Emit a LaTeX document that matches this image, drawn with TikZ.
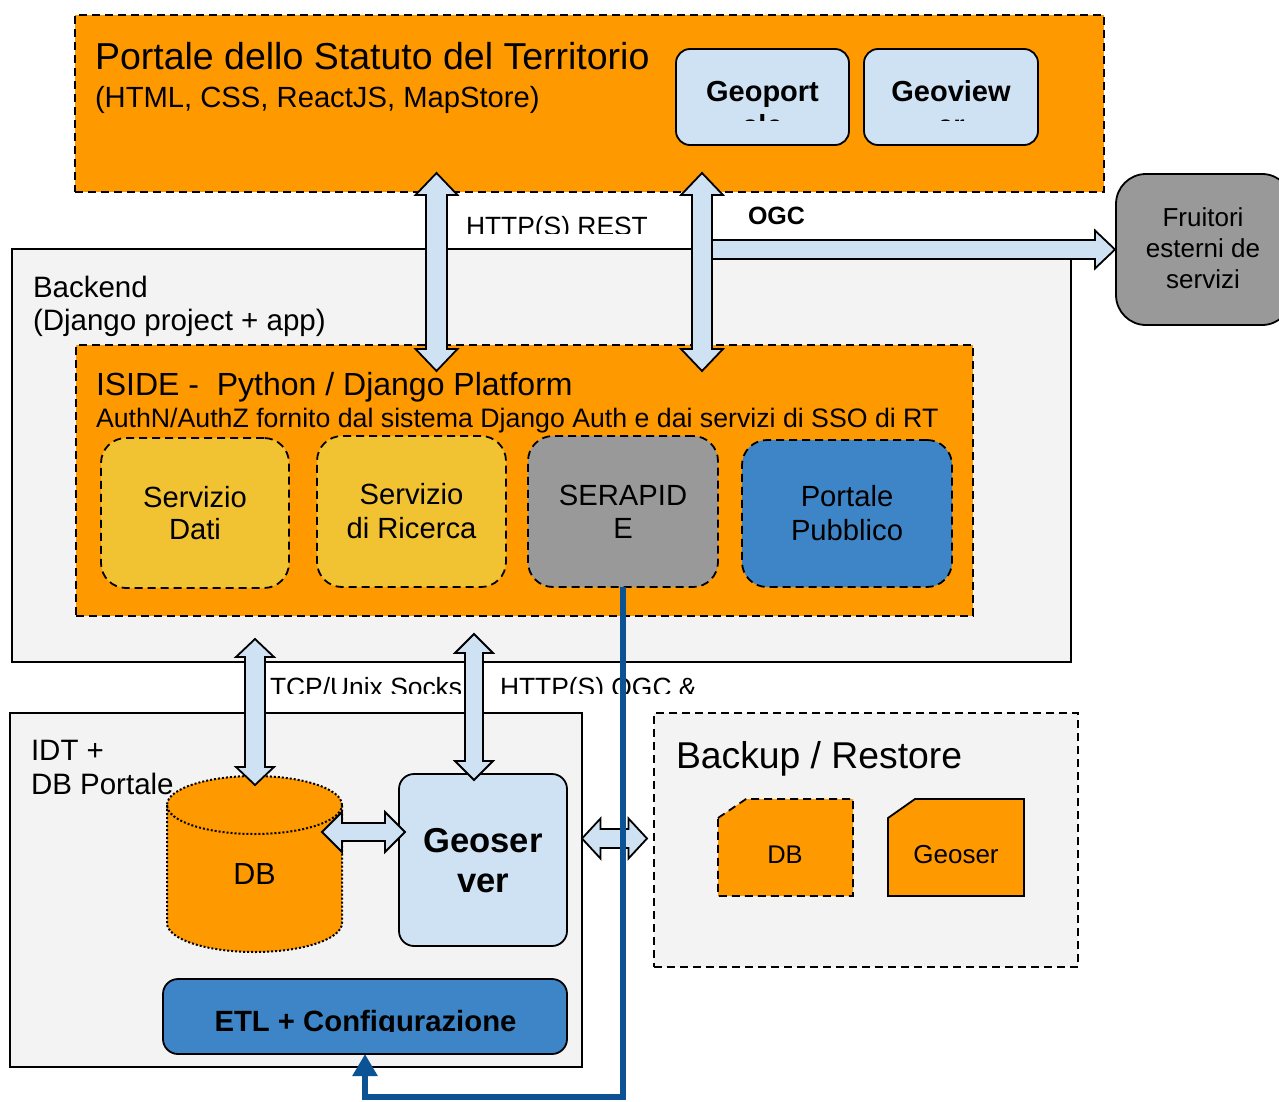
\documentclass[tikz,border=0pt]{standalone}
\usepackage{fontspec}
\setmainfont{Liberation Sans}
\usetikzlibrary{arrows.meta}
\definecolor{orng}{HTML}{FF9900}
\definecolor{lblue}{HTML}{CFE2F3}
\definecolor{bgray}{HTML}{F3F3F3}
\definecolor{mgray}{HTML}{999999}
\definecolor{mblue}{HTML}{3D85C6}
\definecolor{yel}{HTML}{F1C232}
\definecolor{dblue}{HTML}{0B5394}
\newcommand\fsz[1]{\fontsize{#1pt}{#1pt}\selectfont}
% vertical double block arrow: cx, top, bottom, shaft half, head half, head length
\newcommand\mkVarrow[6]{%
  \draw[blockarrow] (#1,#2) -- ({#1+#5},{#2+#6}) -- ({#1+#4},{#2+#6}) -- ({#1+#4},{#3-#6}) -- ({#1+#5},{#3-#6}) -- (#1,#3) -- ({#1-#5},{#3-#6}) -- ({#1-#4},{#3-#6}) -- ({#1-#4},{#2+#6}) -- ({#1-#5},{#2+#6}) -- cycle;}
% horizontal double block arrow: left, right, cy, shaft half, head half, head length
\newcommand\mkHarrow[6]{%
  \draw[blockarrow] (#1,#3) -- ({#1+#6},{#3-#5}) -- ({#1+#6},{#3-#4}) -- ({#2-#6},{#3-#4}) -- ({#2-#6},{#3-#5}) -- (#2,#3) -- ({#2-#6},{#3+#5}) -- ({#2-#6},{#3+#4}) -- ({#1+#6},{#3+#4}) -- ({#1+#6},{#3+#5}) -- cycle;}
% single right block arrow
\newcommand\mkRarrow[6]{%
  \draw[blockarrow] (#1,{#3-#4}) -- ({#2-#6},{#3-#4}) -- ({#2-#6},{#3-#5}) -- (#2,#3) -- ({#2-#6},{#3+#5}) -- ({#2-#6},{#3+#4}) -- (#1,{#3+#4}) -- cycle;}
\begin{document}
\begin{tikzpicture}[x=1pt,y=-1pt,
  rbox/.style={draw=black, line width=1.5pt, inner sep=0pt, outer sep=0pt, anchor=north west},
  dsh/.style={dash pattern=on 8pt off 5pt, line width=1.8pt},
  lbl/.style={inner sep=0pt, outer sep=0pt, anchor=base},
  lblw/.style={inner sep=0pt, outer sep=0pt, anchor=base west},
  blockarrow/.style={draw=black, fill=lblue, line width=1.8pt, line join=miter},
  blueline/.style={draw=dblue, line width=6.5pt, line join=miter, -{Triangle[width=24pt,length=22pt]}}]
\useasboundingbox (0,0) rectangle (1279,1102);

% ---- top portal
\node[rbox, dsh, fill=orng, minimum width=1029pt, minimum height=177pt] (portal) at (75,15) {};
\node[lblw, font=\fsz{37.5}] (ptitle) at (95,70) {Portale dello Statuto del Territorio};
\node[lblw, font=\fsz{29.2}] (psub) at (95,108) {(HTML, CSS, ReactJS, MapStore)};
\node[rbox, line width=1.8pt, fill=lblue, rounded corners=14pt, minimum width=173pt, minimum height=96pt] (geoportale) at (676,49) {};
\node[rbox, line width=1.8pt, fill=lblue, rounded corners=14pt, minimum width=174pt, minimum height=96pt] (geoviewer) at (864,49) {};
\begin{scope}
  \clip (676,49) rectangle (1040,121);
  \node[lbl, font=\bfseries\fsz{29}] (gp1) at (762.5,102) {Geoport};
  \node[lbl, font=\bfseries\fsz{29}] (gp2) at (762.5,136) {ale};
  \node[lbl, font=\bfseries\fsz{29}] (gv1) at (951,102) {Geoview};
  \node[lbl, font=\bfseries\fsz{29}] (gv2) at (951,136) {er};
\end{scope}

% ---- backend
\node[rbox, fill=bgray, minimum width=1059pt, minimum height=413pt] (backend) at (12,249) {};
\node[lblw, font=\fsz{29.5}] (be1) at (33,297) {Backend};
\node[lblw, font=\fsz{29.5}] (be2) at (33,330) {(Django project + app)};

% ---- ISIDE
\node[rbox, dsh, fill=orng, minimum width=897pt, minimum height=271pt] (iside) at (76,345) {};
\node[lblw, font=\fsz{32}] (is1) at (96,395) {ISIDE -\ \ Python / Django Platform};
\node[lblw, font=\fsz{26.7}] (is2) at (96,427) {AuthN/AuthZ fornito dal sistema Django Auth e dai servizi di SSO di RT};

\node[rbox, dsh, fill=yel, rounded corners=25pt, minimum width=188pt, minimum height=150pt] (sdati) at (101,438) {};
\node[rbox, dsh, fill=yel, rounded corners=25pt, minimum width=189pt, minimum height=151pt] (sric) at (317,436) {};
\node[rbox, dsh, fill=mgray, rounded corners=25pt, minimum width=190pt, minimum height=151pt] (serapide) at (528,436) {};
\node[rbox, dsh, fill=mblue, rounded corners=25pt, minimum width=210pt, minimum height=147pt] (ppub) at (742,440) {};
\node[lbl, font=\fsz{29.2}] at (195,507) {Servizio};
\node[lbl, font=\fsz{29.2}] at (195,539) {Dati};
\node[lbl, font=\fsz{29.2}] at (411.5,504) {Servizio};
\node[lbl, font=\fsz{29.2}] at (411.5,538) {di Ricerca};
\node[lbl, font=\fsz{29.2}] at (623,505) {SERAPID};
\node[lbl, font=\fsz{29.2}] at (623,538) {E};
\node[lbl, font=\fsz{29.2}] at (847,506) {Portale};
\node[lbl, font=\fsz{29.2}] at (847,540) {Pubblico};

% ---- IDT
\node[rbox, fill=bgray, minimum width=572pt, minimum height=354pt] (idt) at (10,713) {};
\node[lblw, font=\fsz{29.5}] (idt1) at (31,760) {IDT +};
\node[lblw, font=\fsz{29.5}] (idt2) at (31,794) {DB Portale};

% cylinder DB
\fill[orng] (167,805) rectangle (342,923);
\fill[orng] (254.5,805) ellipse [x radius=87.5pt, y radius=29pt];
\fill[orng] (254.5,923) ellipse [x radius=87.5pt, y radius=29pt];
\draw[line width=2pt, dotted] (254.5,805) ellipse [x radius=87.5pt, y radius=29pt];
\draw[line width=2pt, dotted] (167,805) -- (167,923) arc[start angle=180, end angle=360, x radius=87.5pt, y radius=29pt] -- (342,805);
\node[lbl, font=\fsz{30.5}] (dbtxt) at (254.5,884) {DB};

\node[rbox, line width=1.8pt, fill=lblue, rounded corners=15pt, minimum width=168pt, minimum height=172pt] (geoserver) at (399,774) {};
\node[lbl, font=\bfseries\fsz{34.6}] at (483,852) {Geoser};
\node[lbl, font=\bfseries\fsz{34.6}] at (483,892) {ver};

\node[rbox, line width=1.8pt, fill=mblue, rounded corners=15pt, minimum width=404pt, minimum height=75pt] (etl) at (163,979) {};
\begin{scope}
  \clip (163,979) rectangle (567,1031.5);
  \node[lbl, font=\bfseries\fsz{29.3}] (etltxt) at (365.5,1031) {ETL + Configurazione};
\end{scope}

% ---- backup
\node[rbox, dsh, fill=bgray, minimum width=424pt, minimum height=254pt] (backup) at (654,713) {};
\node[lblw, font=\fsz{37.3}] (bktitle) at (676,768) {Backup / Restore};
\draw[dsh, fill=orng] (718,818) -- (746,799) -- (853,799) -- (853,896) -- (718,896) -- cycle;
\draw[line width=1.8pt, fill=orng] (888,818) -- (915,799) -- (1024,799) -- (1024,896) -- (888,896) -- cycle;
\node[lbl, font=\fsz{25.5}] (bkdb) at (785,863) {DB};
\node[lbl, font=\fsz{26}] (bkgs) at (956,863) {Geoser};

% ---- fruitori
\node[rbox, line width=1.8pt, fill=mgray, rounded corners=30pt, minimum width=176pt, minimum height=151pt] (fruitori) at (1116,174) {};
\node[lbl, font=\fsz{26}] at (1203,226) {Fruitori};
\node[lbl, font=\fsz{26}] at (1203,257) {esterni de};
\node[lbl, font=\fsz{26}] at (1203,288) {servizi};

% ---- connector labels
\begin{scope}
  \clip (455,190) rectangle (690,233);
  \node[lblw, font=\fsz{26.4}] (lrest) at (466,235) {HTTP(S) REST};
\end{scope}
\node[lblw, font=\bfseries\fsz{25}] (logc) at (748,225) {OGC};
\begin{scope}
  \clip (262,665) rectangle (720,693.5);
  \node[lblw, font=\fsz{26.4}] (ltcp) at (270,696) {TCP/Unix Socks};
  \node[lblw, font=\fsz{26.4}] (lhttp) at (500,696) {HTTP(S) OGC \&};
\end{scope}

% ---- block arrows
\mkRarrow{702}{1115}{249.5}{9.5}{19}{20}
\mkVarrow{436.5}{173}{371}{10.5}{21}{22}
\mkVarrow{702}{173}{371}{10}{21}{22}
\mkVarrow{255}{639}{785}{10}{19}{18}
\mkVarrow{474}{634}{780}{9}{19}{19}
\mkHarrow{322}{405}{832}{9}{20}{20}
\mkHarrow{582}{647}{838.5}{9.5}{20}{18.5}

% ---- blue connector SERAPIDE -> ETL
\draw[blueline] (serapide.south) -- ++(0,510) -| (etl.south);
\end{tikzpicture}
\end{document}
